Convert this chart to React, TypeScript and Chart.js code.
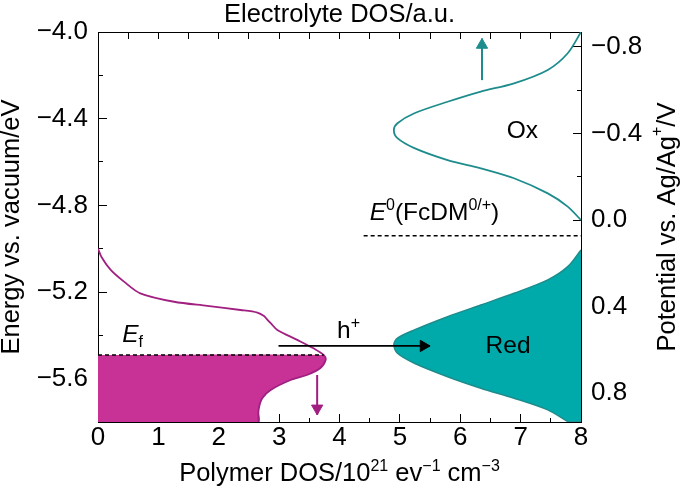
import { useEffect, useRef } from "react";
import { Chart, registerables } from "chart.js";

Chart.register(...registerables);

const FONT = '"Liberation Sans", Arial, Helvetica, sans-serif';
const FS_TICK = 26;
const FS_TITLE = 25.5;
const FS_NOTE = 24.5;
const FS_SUP = 16;

// ---- data (x: polymer DOS / electrolyte DOS, y: energy in eV) ----
const polymerE = [-5.0, -5.04, -5.098, -5.152, -5.206, -5.245, -5.264, -5.283, -5.295, -5.311, -5.326, -5.344, -5.375, -5.421, -5.46, -5.491, -5.514, -5.552, -5.583, -5.606, -5.652, -5.69, -5.744, -5.8];
const polymerX = [0.0, 0.06, 0.21, 0.43, 0.7, 1.26, 1.81, 2.36, 2.64, 2.75, 2.8, 2.86, 2.97, 3.3, 3.57, 3.74, 3.77, 3.68, 3.46, 3.19, 2.86, 2.72, 2.66, 2.66];

const oxE = [-4.0, -4.098, -4.175, -4.237, -4.275, -4.322, -4.375, -4.421, -4.452, -4.49, -4.536, -4.591, -4.629, -4.675, -4.745, -4.806, -4.868];
const oxX = [8.0, 7.78, 7.45, 6.89, 6.34, 5.79, 5.24, 4.96, 4.9, 4.96, 5.24, 5.79, 6.34, 6.89, 7.45, 7.78, 8.0];

const redE = [-5.006, -5.083, -5.144, -5.206, -5.26, -5.314, -5.375, -5.413, -5.444, -5.483, -5.529, -5.591, -5.644, -5.69, -5.744, -5.798, -5.8];
const redX = [8.0, 7.78, 7.45, 6.89, 6.34, 5.79, 5.24, 4.96, 4.9, 4.96, 5.24, 5.79, 6.34, 6.89, 7.45, 7.78, 7.8];

const E_MIN = -5.8;
const E_MAX = -4.0;
const X_MIN = 0;
const X_MAX = 8;
const V_MIN = -0.869;
const V_MAX = 0.933;

const fermiE = -5.491;
const fermiX = [0, 3.74];
const e0E = -4.94;
const e0X = [4.4, 8];

const oxArrowX = [6.36, 6.36];
const oxArrowE = [-4.222, -4.03];
const redArrowX = [3.63, 3.63];
const redArrowE = [-5.583, -5.767];
const holeArrowX = [2.99, 5.5];
const holeArrowE = [-5.449, -5.449];
const HEAD_DY = 0.03;
const HEAD_DX = 0.108;

const MAGENTA_FILL = "#C83296";
const MAGENTA_LINE = "#A01F80";
const TEAL_FILL = "#00AAAA";
const TEAL_LINE = "#1E8C8C";

type Seg = { t: string; s?: number; dy?: number; it?: boolean };

const labels: { x: number; y: number; segs: Seg[] }[] = [
  { x: 0.4, y: -5.429, segs: [{ t: "E", it: true }, { t: "f", s: FS_SUP, dy: 5 }] },
  { x: 3.96, y: -5.412, segs: [{ t: "h" }, { t: "+", s: FS_SUP, dy: -10 }] },
  { x: 6.77, y: -4.49, segs: [{ t: "Ox" }] },
  { x: 6.42, y: -5.483, segs: [{ t: "Red" }] },
  { x: 4.5, y: -4.868, segs: [{ t: "E", it: true }, { t: "0", s: FS_SUP, dy: -10 }, { t: "(FcDM" }, { t: "0/+", s: FS_SUP, dy: -10 }, { t: ")" }] },
];

const xTitle: Seg[] = [
  { t: "Polymer DOS/10", s: FS_TITLE },
  { t: "21", s: FS_SUP, dy: -10 },
  { t: " ev", s: FS_TITLE },
  { t: "\u22121", s: FS_SUP, dy: -10 },
  { t: " cm", s: FS_TITLE },
  { t: "\u22123", s: FS_SUP, dy: -10 },
];
const yRightTitle: Seg[] = [{ t: "Potential vs. Ag/Ag", s: FS_TITLE }, { t: "+", s: FS_SUP, dy: -10 }, { t: "/V", s: FS_TITLE }];

function fontOf(sg: Seg) {
  return `${sg.it ? "italic " : ""}${sg.s ?? FS_NOTE}px ${FONT}`;
}
function drawRich(ctx: CanvasRenderingContext2D, segs: Seg[], x: number, y: number, align: "left" | "center") {
  let w = 0;
  for (const sg of segs) {
    ctx.font = fontOf(sg);
    w += ctx.measureText(sg.t).width;
  }
  let cx = align === "center" ? x - w / 2 : x;
  ctx.textAlign = "left";
  for (const sg of segs) {
    ctx.font = fontOf(sg);
    ctx.fillText(sg.t, cx, y + (sg.dy ?? 0));
    cx += ctx.measureText(sg.t).width;
  }
}

const pts = (xs: number[], ys: number[]) => xs.map((x, i) => ({ x, y: ys[i] }));
const fmt = (v: number) => {
  if (Math.abs(v) < 1e-9) return "0.0";
  return v.toFixed(1).replace("-", "\u2212");
};
const isMajorX = (v: number) => Math.abs(v - Math.round(v)) < 1e-6;
const isMajorY = (v: number) => Math.round(v * 10) % 4 === 0;

const annotPlugin = {
  id: "annot",
  afterDraw(chart: any) {
    const { ctx, chartArea } = chart;
    const sx = chart.scales.x;
    const sy = chart.scales.y;
    ctx.save();
    ctx.fillStyle = "#000";
    ctx.textBaseline = "alphabetic";
    for (const a of labels) drawRich(ctx, a.segs, sx.getPixelForValue(a.x), sy.getPixelForValue(a.y), "left");
    drawRich(ctx, xTitle, (chartArea.left + chartArea.right) / 2, 481, "center");
    ctx.translate(668, (chartArea.top + chartArea.bottom) / 2);
    ctx.rotate(-Math.PI / 2);
    ctx.textBaseline = "middle";
    drawRich(ctx, yRightTitle, 0, 0, "center");
    ctx.restore();
  },
};

// tick marks drawn as dashed grid lines (inward ticks)
const xTickDash = (c: any) => {
  if (!c.tick) return [];
  const a = c.chart.chartArea;
  const h = a.bottom - a.top;
  const b = isMajorX(c.tick.value) ? 8 : 4;
  return [7, h - 7 - b, b, 5000];
};
const yTickDash = (c: any) => {
  if (!c.tick) return [];
  const l = isMajorY(c.tick.value) ? 8 : 4;
  return [l, 5000];
};
const y2TickDash = (c: any) => {
  if (!c.tick) return [];
  const a = c.chart.chartArea;
  const w = a.right - a.left;
  const l = isMajorY(c.tick.value) ? 8 : 4;
  return [0, w - l, l, 5000];
};

export default function App() {
  const ref = useRef<HTMLCanvasElement>(null);
  useEffect(() => {
    Chart.defaults.font.family = FONT;
    Chart.defaults.color = "#000";
    const polyFill = [
      { x: 0, y: fermiE },
      ...pts(polymerX, polymerE).filter((p) => p.y <= fermiE),
      { x: 0, y: E_MIN },
    ];
    const redFill = [...pts(redX, redE), { x: X_MAX, y: E_MIN }];
    const line = (data: any[], color: string, extra: any = {}) => ({
      data,
      borderColor: color,
      backgroundColor: color,
      borderWidth: 1.8,
      pointRadius: 0,
      fill: false,
      tension: 0.3,
      ...extra,
    });
    const head = (x: number, y: number, color: string, rot: number) => ({
      data: [{ x, y }],
      showLine: false,
      pointRadius: 6.5,
      pointStyle: "triangle",
      rotation: rot,
      pointBackgroundColor: color,
      pointBorderColor: color,
      pointBorderWidth: 1,
      order: 0,
    });
    const gridCommon = { drawTicks: false, drawOnChartArea: true, color: "#000", lineWidth: 1 };
    const chart = new Chart(ref.current!, {
      type: "line",
      data: {
        datasets: [
          line(polyFill, MAGENTA_FILL, { borderWidth: 0, fill: "shape", backgroundColor: MAGENTA_FILL, order: 10 }),
          line(redFill, TEAL_LINE, { borderWidth: 1.5, fill: "shape", backgroundColor: TEAL_FILL, order: 10 }),
          line(pts(polymerX, polymerE), MAGENTA_LINE, { order: 5 }),
          line(pts(oxX, oxE), TEAL_LINE, { order: 5 }),
          line(pts(fermiX, [fermiE, fermiE]), "#000", { borderWidth: 1.5, borderDash: [4, 3], tension: 0, order: 3 }),
          line(pts(e0X, [e0E, e0E]), "#000", { borderWidth: 1.5, borderDash: [4, 3], tension: 0, order: 3 }),
          line(pts(oxArrowX, oxArrowE), TEAL_LINE, { borderWidth: 2, tension: 0, order: 1 }),
          head(oxArrowX[1], oxArrowE[1] - HEAD_DY, TEAL_LINE, 0),
          line(pts(redArrowX, redArrowE), MAGENTA_LINE, { borderWidth: 2, tension: 0, order: 1 }),
          head(redArrowX[1], redArrowE[1] + HEAD_DY, MAGENTA_LINE, 180),
          line(pts(holeArrowX, holeArrowE), "#000", { borderWidth: 1.8, tension: 0, order: 1 }),
          head(holeArrowX[1] - HEAD_DX, holeArrowE[1], "#000", 90),
        ] as any,
      },
      options: {
        responsive: false,
        animation: false,
        events: [],
        layout: { padding: 0 },
        plugins: { legend: { display: false }, tooltip: { enabled: false }, title: { display: false } },
        scales: {
          x: {
            type: "linear",
            position: "bottom",
            min: X_MIN,
            max: X_MAX,
            afterFit: (s: any) => { s.height = 73; },
            ticks: {
              stepSize: 0.5,
              autoSkip: false,
              maxRotation: 0,
              padding: 0,
              font: { size: FS_TICK },
              color: "#000",
              callback: (v: any) => (isMajorX(v) ? String(Math.round(v)) : ""),
            },
            grid: { ...gridCommon },
            border: { display: true, color: "#000", width: 1, dash: xTickDash },
          },
          xTop: {
            type: "linear",
            position: "top",
            min: X_MIN,
            max: X_MAX,
            afterFit: (s: any) => { s.height = 32; },
            ticks: { stepSize: 0.5, display: false },
            grid: { display: false, drawTicks: false },
            border: { display: true, color: "#000", width: 1 },
            title: { display: true, text: "Electrolyte DOS/a.u.", font: { size: FS_TITLE }, color: "#000", padding: { top: 0, bottom: 0 } },
          },
          y: {
            type: "linear",
            position: "left",
            min: E_MIN,
            max: E_MAX,
            afterFit: (s: any) => { s.width = 98; },
            ticks: {
              stepSize: 0.2,
              autoSkip: false,
              padding: 10,
              font: { size: FS_TICK },
              color: "#000",
              callback: (v: any) => (isMajorY(v) ? fmt(v) : ""),
            },
            grid: { ...gridCommon },
            border: { display: true, color: "#000", width: 1, dash: yTickDash },
            title: { display: true, text: "Energy vs. vacuum/eV", font: { size: FS_TITLE, lineHeight: 0.9 }, color: "#000", padding: { top: 0, bottom: 0 } },
          },
          y2: {
            type: "linear",
            position: "right",
            min: V_MIN,
            max: V_MAX,
            reverse: true,
            afterFit: (s: any) => { s.width = 104; },
            ticks: {
              stepSize: 0.2,
              includeBounds: false,
              autoSkip: false,
              padding: 10,
              font: { size: FS_TICK },
              color: "#000",
              callback: (v: any) => (isMajorY(v) ? fmt(v) : ""),
            },
            grid: { ...gridCommon },
            border: { display: true, color: "#000", width: 1, dash: y2TickDash },
          },
        },
      } as any,
      plugins: [annotPlugin],
    });
    return () => chart.destroy();
  }, []);
  return (
    <div style={{ position: "absolute", left: 0, top: 0, width: 685, height: 495 }}>
      <canvas ref={ref} width={685} height={495} style={{ display: "block" }} />
    </div>
  );
}
